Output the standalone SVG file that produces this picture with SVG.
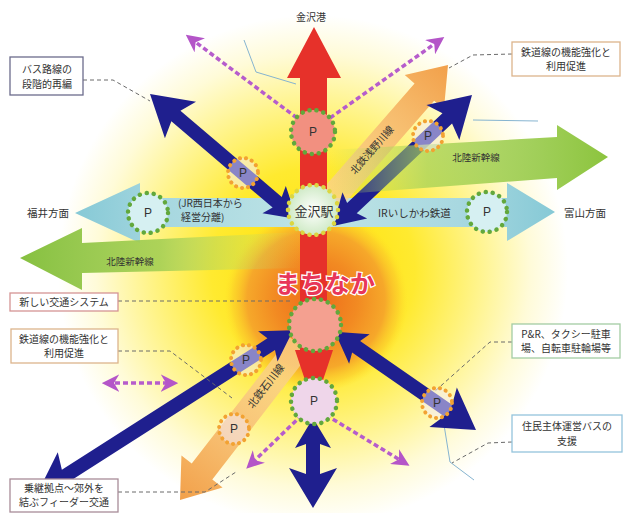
<svg xmlns="http://www.w3.org/2000/svg" width="624" height="513" viewBox="0 0 624 513">
<defs>
<style>
.t{font-family:"Noto Sans CJK JP","Noto Sans",sans-serif;fill:#333;}
.lbl{font-size:10px;text-anchor:middle;}
.box{fill:#fff;stroke-width:1.3;}
.lead{fill:none;stroke:#6a6a6a;stroke-width:1;stroke-dasharray:4 3;}
.navy{fill:#1f1f8e;}
.pur{fill:none;stroke:#b65ccc;stroke-width:3.5;stroke-dasharray:5 3;marker-end:url(#pa);}
.ring{stroke:#62a83c;stroke-width:4.5;stroke-dasharray:0.1 7;stroke-linecap:round;}
.oring{stroke:#f2a232;stroke-width:4;stroke-dasharray:0.1 6;stroke-linecap:round;fill:#f4ecff;fill-opacity:.5;}
.p{font-family:"Liberation Sans",sans-serif;font-size:12px;fill:#333;text-anchor:middle;}
.river{fill:none;stroke:#86b4d0;stroke-width:1;}
</style>
<marker id="pa" viewBox="0 0 10 10" refX="7" refY="5" markerWidth="5" markerHeight="5" orient="auto-start-reverse">
<path d="M0,0 L10,5 L0,10 L3,5 Z" fill="#b455c8"/>
</marker>
<radialGradient id="glow" cx="313" cy="270" r="255" gradientUnits="userSpaceOnUse">
<stop offset="0" stop-color="#ffe000"/>
<stop offset="0.4" stop-color="#ffea30"/>
<stop offset="0.65" stop-color="#fff48c"/>
<stop offset="0.85" stop-color="#fffbd8"/>
<stop offset="1" stop-color="#ffffff"/>
</radialGradient>
<radialGradient id="core" cx="316" cy="300" r="92" gradientUnits="userSpaceOnUse">
<stop offset="0" stop-color="#ee6a1a"/>
<stop offset="0.45" stop-color="#f28a22"/>
<stop offset="0.75" stop-color="#f6a82a"/>
<stop offset="0.9" stop-color="#fbc82a" stop-opacity="0.6"/>
<stop offset="1" stop-color="#ffe02a" stop-opacity="0"/>
</radialGradient>
<linearGradient id="gl" x1="20" y1="0" x2="300" y2="0" gradientUnits="userSpaceOnUse">
<stop offset="0" stop-color="#86c040"/>
<stop offset="0.5" stop-color="#a4cf54" stop-opacity="0.9"/>
<stop offset="1" stop-color="#c8e070" stop-opacity="0"/>
</linearGradient>
<linearGradient id="gr" x1="330" y1="0" x2="608" y2="0" gradientUnits="userSpaceOnUse">
<stop offset="0" stop-color="#b8dc60" stop-opacity="0"/>
<stop offset="0.35" stop-color="#a6d256" stop-opacity="0.75"/>
<stop offset="1" stop-color="#8cc43e"/>
</linearGradient>
<linearGradient id="lb" x1="75" y1="0" x2="555" y2="0" gradientUnits="userSpaceOnUse">
<stop offset="0" stop-color="#86c9d6"/>
<stop offset="0.2" stop-color="#a8d8e0"/>
<stop offset="0.5" stop-color="#bfe4e6"/>
<stop offset="0.8" stop-color="#a8d8e0"/>
<stop offset="1" stop-color="#86c9d6"/>
</linearGradient>
<linearGradient id="og" x1="0" y1="0" x2="199" y2="0" gradientUnits="userSpaceOnUse">
<stop offset="0" stop-color="#f2a04a"/>
<stop offset="0.3" stop-color="#f6b868"/>
<stop offset="1" stop-color="#fbd89a" stop-opacity="0.7"/>
</linearGradient>
<radialGradient id="stf" cx="0.5" cy="0.5" r="0.5">
<stop offset="0" stop-color="#ffffff"/>
<stop offset="1" stop-color="#cfeac6"/>
</radialGradient>
</defs>

<g id="background">
<rect width="624" height="513" fill="#fff"/>
<circle cx="313" cy="270" r="255" fill="url(#glow)"/>
<circle cx="316" cy="300" r="92" fill="url(#core)"/>
<path class="river" d="M244,40 L256,72 L296,84"/>
<path class="river" d="M473,120 L538,121"/>
<path class="river" d="M440,400 L450,462 L474,480"/>
</g>

<g id="connectors">
<path id="ir-line" d="M75,213 L140,183 L140,198 L507,198 L507,183 L555,212 L507,241 L507,227 L140,227 L140,243 Z" fill="url(#lb)"/>
<path id="asano" transform="translate(448,65) rotate(131.1)" d="M0,0 L36,-26 L36,-13 L199,-13 L199,13 L36,13 L36,26 Z" fill="url(#og)"/>
<path id="ishikawa" transform="translate(180,500) rotate(-52.3)" d="M0,0 L36,-26 L36,-13 L196,-13 L196,13 L36,13 L36,26 Z" fill="url(#og)"/>
<path id="red" d="M314,27 L341,78 L327,78 L327,350 L333,350 L323,380 L305,380 L295,350 L300,350 L300,78 L287,78 Z" fill="#e6312a"/>
<path class="navy" transform="translate(150,94) rotate(40.4)" d="M0,0 L40,-24 L34,-7 L167,-7 L163,-18 L193,0 L163,18 L167,7 L34,7 L40,24 Z"/>
<path class="navy" transform="translate(472,95) rotate(136.7)" d="M0,0 L40,-24 L34,-7 L165,-7 L161,-18 L191,0 L161,18 L165,7 L34,7 L40,24 Z"/>
<path class="navy" transform="translate(37,494) rotate(-32.6)" d="M0,0 L40,-24 L34,-7 L278,-7 L274,-18 L304,0 L274,18 L278,7 L34,7 L40,24 Z"/>
<path class="navy" transform="translate(476,430) rotate(-145.2)" d="M0,0 L40,-24 L34,-7 L146,-7 L142,-18 L172,0 L142,18 L146,7 L34,7 L40,24 Z"/>
<path class="navy" transform="translate(313,508) rotate(-90)" d="M0,0 L40,-24 L34,-7 L64,-7 L60,-18 L90,0 L60,18 L64,7 L34,7 L40,24 Z"/>
<path id="shinkansen-l" d="M20,258 L82,228 L82,243 L300,232 L300,268 L82,273 L82,290 Z" fill="url(#gl)"/>
<path id="shinkansen-r" d="M330,150 L557,137 L557,125 L608,157 L557,190 L557,178 L330,195 Z" fill="url(#gr)"/>
<path class="pur" d="M297,118 L190,38"/>
<path class="pur" d="M330,118 L440,40"/>
<path class="pur" d="M302,415 L250,465"/>
<path class="pur" d="M326,415 L405,463"/>
<path class="pur" d="M107,383 L173,383" marker-start="url(#pa)"/>
<path class="lead" d="M83,80 L113,80 L150,101"/>
<path class="lead" d="M512,54 L473,55 L449,68"/>
<path class="lead" d="M118,301 L290,301"/>
<path class="lead" d="M118,351 L170,351 L232,398"/>
<path class="lead" d="M512,342 L490,342 L434,392"/>
<path class="lead" d="M512,442 L488,443 L452,463"/>
<path class="lead" d="M118,492 L205,492 L236,472"/>
</g>

<g id="line-labels">
<text class="t" font-size="10" text-anchor="middle" transform="translate(372,150) rotate(-48.9)" dy="3.5">北鉄浅野川線</text>
<text class="t" font-size="10.5" text-anchor="middle" transform="translate(266,386) rotate(-52.3)" dy="3.5">北鉄石川線</text>
<text class="t" x="130" y="265" font-size="9.5" text-anchor="middle">北陸新幹線</text>
<text class="t" x="476" y="161" font-size="9.5" text-anchor="middle">北陸新幹線</text>
<text class="t" x="178" y="207" font-size="10">(JR西日本から</text>
<text class="t" x="181" y="221" font-size="10">経営分離)</text>
<text class="t" x="378" y="217" font-size="10.5">IRいしかわ鉄道</text>
<text class="t" x="311" y="21" font-size="10" text-anchor="middle">金沢港</text>
<text class="t" x="48" y="217" font-size="10.5" text-anchor="middle">福井方面</text>
<text class="t" x="585" y="217" font-size="10.5" text-anchor="middle">富山方面</text>
</g>

<g id="p-top"><circle class="ring" cx="313" cy="132" r="22" fill="#f29080"/><text class="p" x="313" y="136">P</text></g>
<g id="station"><circle cx="313" cy="210" r="25" fill="url(#stf)" stroke="#dcd640" stroke-width="4.5" stroke-dasharray="0.1 7" stroke-linecap="round"/><text class="t" x="314" y="216" font-size="13" text-anchor="middle">金沢駅</text></g>
<g id="machinaka-circle"><circle class="ring" cx="315" cy="325" r="26" fill="#f4a090"/></g>
<g id="p-bottom"><circle class="ring" cx="314" cy="401" r="23" fill="#efd6ea"/><text class="p" x="314" y="405">P</text></g>
<g id="p-left"><circle class="ring" cx="148" cy="213" r="20" fill="#d6f0f2"/><text class="p" x="148" y="217">P</text></g>
<g id="p-right"><circle class="ring" cx="487" cy="212" r="20" fill="#d6f0f2"/><text class="p" x="487" y="216">P</text></g>
<g id="p-s1"><circle class="oring" cx="243" cy="173" r="15"/><text class="p" x="243" y="177">P</text></g>
<g id="p-s2"><circle class="oring" cx="428" cy="136" r="15"/><text class="p" x="428" y="140">P</text></g>
<g id="p-s3"><circle class="oring" cx="246" cy="360" r="15"/><text class="p" x="246" y="364">P</text></g>
<g id="p-s4"><circle class="oring" cx="234" cy="429" r="15"/><text class="p" x="234" y="433">P</text></g>
<g id="p-s5"><circle class="oring" cx="437" cy="403" r="15"/><text class="p" x="437" y="407">P</text></g>

<g id="machinaka"><text x="325" y="293" font-family="Noto Sans CJK JP, sans-serif" font-size="25" font-weight="bold" fill="#e8365a" stroke="#fff" stroke-width="2.5" paint-order="stroke" text-anchor="middle">まちなか</text></g>

<g id="box-bus"><rect class="box" x="10" y="57" width="73" height="38" stroke="#6c6c8c"/><text class="t lbl" x="47" y="73">バス路線の</text><text class="t lbl" x="47" y="88">段階的再編</text></g>
<g id="box-rail-top"><rect class="box" x="512" y="42" width="108" height="34" stroke="#dcb48c"/><text class="t lbl" x="566" y="56">鉄道線の機能強化と</text><text class="t lbl" x="566" y="70">利用促進</text></g>
<g id="box-newsys"><rect class="box" x="10" y="293" width="108" height="18" stroke="#d49494"/><text class="t lbl" x="64" y="306">新しい交通システム</text></g>
<g id="box-rail-left"><rect class="box" x="11" y="329" width="107" height="34" stroke="#dcb48c"/><text class="t lbl" x="64" y="343">鉄道線の機能強化と</text><text class="t lbl" x="64" y="357">利用促進</text></g>
<g id="box-pr"><rect class="box" x="512" y="324" width="108" height="34" stroke="#a4cca4"/><text class="t lbl" x="566" y="338">P&amp;R、タクシー駐車</text><text class="t lbl" x="566" y="352">場、自転車駐輪場等</text></g>
<g id="box-resident"><rect class="box" x="512" y="415" width="110" height="37" stroke="#94c4dc"/><text class="t lbl" x="567" y="430">住民主体運営バスの</text><text class="t lbl" x="567" y="445">支援</text></g>
<g id="box-feeder"><rect class="box" x="10" y="479" width="108" height="33" stroke="#a88c98"/><text class="t lbl" x="64" y="492">乗継拠点～郊外を</text><text class="t lbl" x="64" y="506">結ぶフィーダー交通</text></g>
</svg>
